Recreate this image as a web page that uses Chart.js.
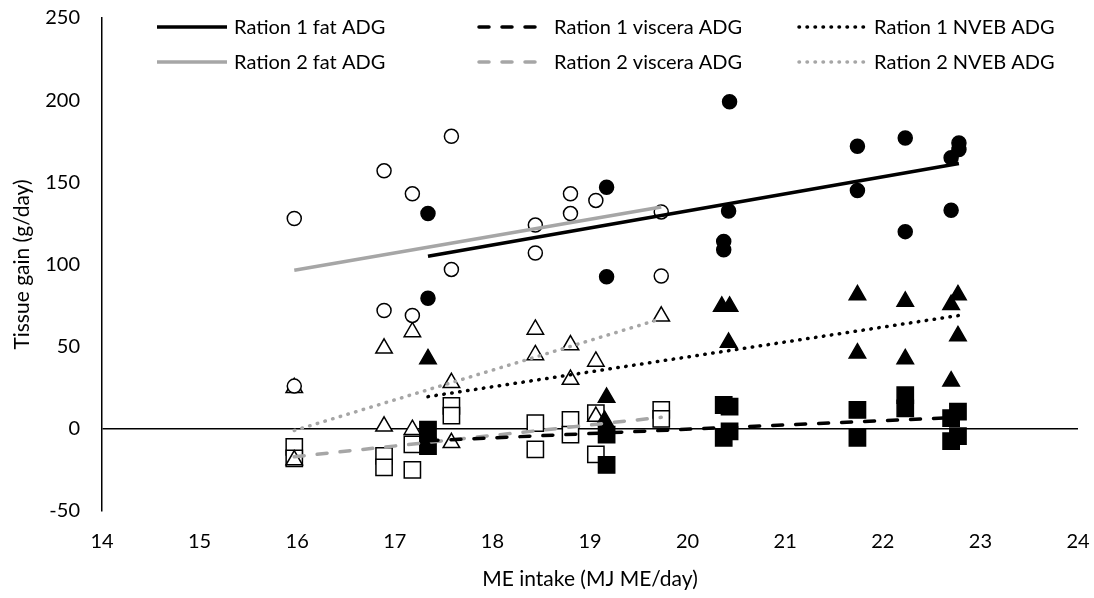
<!DOCTYPE html>
<html>
<head>
<meta charset="utf-8">
<script src="https://cdn.jsdelivr.net/npm/chart.js@4.4.1/dist/chart.umd.min.js"></script>
<style>
  html, body { margin: 0; padding: 0; background: #fff; }
  #wrap { width: 1094px; height: 598px; }
</style>
</head>
<body>
<div id="wrap"><canvas id="chart" width="1094" height="598"></canvas></div>
<script>
// measured points, x = ME intake (MJ ME/day), y = tissue gain (g/day)
const r1FatX = [17.34, 17.34, 19.17, 19.17, 20.43, 20.42, 20.37, 20.37, 21.74, 21.74, 22.23, 22.23, 22.70, 22.70, 22.78, 22.78];
const r1FatY = [131, 79.5, 147, 92.5, 199, 132.5, 114, 109, 172, 145, 177, 120, 165, 133, 174, 170];

const r2FatX = [15.97, 15.97, 16.89, 16.89, 17.18, 17.18, 17.58, 17.58, 18.44, 18.44, 18.80, 18.80, 19.06, 19.73, 19.73];
const r2FatY = [128, 26, 157, 72, 143, 69, 178, 97, 124, 107, 143, 131, 139, 132, 93];

const r1NvebX = [17.34, 19.17, 19.15, 20.35, 20.43, 20.42, 21.74, 21.74, 22.23, 22.23, 22.70, 22.70, 22.77, 22.77];
const r1NvebY = [42.5, 19, 5, 74.5, 74.5, 52.5, 81.5, 46, 77.5, 42.5, 75.5, 29, 81.5, 56.5];

const r2NvebX = [15.97, 15.97, 16.89, 16.89, 17.18, 17.18, 17.58, 17.58, 18.44, 18.44, 18.80, 18.80, 19.06, 19.06, 19.73];
const r2NvebY = [25, -19, 49, 1.5, 59, -0.5, 28, -8.5, 60.5, 45, 51, 30, 41, 7.5, 68.5];

const r1VisX = [17.34, 17.34, 19.17, 19.17, 20.37, 20.43, 20.37, 20.43, 21.74, 21.74, 22.23, 22.23, 22.70, 22.70, 22.77, 22.77];
const r1VisY = [-0.5, -10.5, -3.5, -22, 14.5, 13.5, -5.5, -1.5, 11.5, -5.5, 20.5, 12.5, 6.5, -7.5, 10.5, -4.5];

const r2VisX = [15.97, 15.97, 16.89, 16.89, 17.18, 17.18, 17.58, 17.58, 18.44, 18.44, 18.80, 18.80, 19.06, 19.06, 19.73, 19.73];
const r2VisY = [-11, -18, -16.5, -23.5, -9.5, -25, 14, 8, 3.5, -12.5, 5.5, -3.5, 9.5, -15.5, 11.5, 6];

// trend line end points
const r1LineX = [17.34, 22.78];
const r2LineX = [15.97, 19.73];
const r1FatLine = [105, 161.5];
const r2FatLine = [96.5, 135];
const r1VisLine = [-7.2, 7];
const r2VisLine = [-17, 7];
const r1NvebLine = [19.6, 69];
const r2NvebLine = [-1, 67];

const xTicks = [14, 15, 16, 17, 18, 19, 20, 21, 22, 23, 24];
const yTicks = [-50, 0, 50, 100, 150, 200, 250];

const legendNames = [
	'Ration 1 fat ADG', 'Ration 1 viscera ADG', 'Ration 1 NVEB ADG',
	'Ration 2 fat ADG', 'Ration 2 viscera ADG', 'Ration 2 NVEB ADG'
];

const GREY = '#a6a6a6';
const FONT = 'Lato';

function pts(xs, ys) {
	return xs.map(function (x, i) { return {x: x, y: ys[i]}; });
}

function markers(xs, ys, style, filled, radius) {
	return {
		data: pts(xs, ys),
		pointStyle: style,
		pointRadius: radius,
		pointBackgroundColor: filled ? '#000' : '#fff',
		pointBorderColor: '#000',
		pointBorderWidth: 1.5,
		showLine: false,
		order: 2
	};
}

function trend(xs, ys, color, dash, cap) {
	return {
		data: pts(xs, ys),
		showLine: true,
		borderColor: color,
		borderWidth: 3.5,
		borderDash: dash === 'dot' ? [0.5, 7.5] : (dash === 'dash' ? [10, 13] : []),
		borderCapStyle: cap,
		pointRadius: 0,
		order: 1
	};
}

const lineStyles = [
	{color: '#000', dash: [], cap: 'butt'},
	{color: '#000', dash: [10, 13], cap: 'round'},
	{color: '#000', dash: [0.5, 7.5], cap: 'round'},
	{color: GREY, dash: [], cap: 'butt'},
	{color: GREY, dash: [10, 13], cap: 'round'},
	{color: GREY, dash: [0.5, 7.5], cap: 'round'}
];

const legendPlugin = {
	id: 'excelLegend',
	afterDraw(chart) {
		const ctx = chart.ctx;
		const cols = [157, 477, 797];
		const rows = [27, 62];
		ctx.save();
		ctx.font = '20px ' + FONT;
		ctx.fillStyle = '#000';
		ctx.textBaseline = 'middle';
		legendNames.forEach(function (name, i) {
			const x = cols[i % 3];
			const y = rows[Math.floor(i / 3)];
			const st = lineStyles[i];
			ctx.beginPath();
			ctx.strokeStyle = st.color;
			ctx.lineWidth = 3.5;
			ctx.setLineDash(st.dash);
			ctx.lineCap = st.cap;
			ctx.moveTo(x + (st.cap === 'round' ? 2 : 0), y);
			ctx.lineTo(x + 70, y);
			ctx.stroke();
			ctx.setLineDash([]);
			ctx.fillText(name, x + 77, y + 1);
		});
		ctx.restore();
	}
};

const config = {
	type: 'scatter',
	data: {
		datasets: [
			markers(r1FatX, r1FatY, 'circle', true, 7),
			markers(r1NvebX, r1NvebY, 'triangle', true, 9.5),
			markers(r1VisX, r1VisY, 'rect', true, 11.5),
			markers(r2FatX, r2FatY, 'circle', false, 7),
			markers(r2NvebX, r2NvebY, 'triangle', false, 9.5),
			markers(r2VisX, r2VisY, 'rect', false, 11.5),
			trend(r1LineX, r1FatLine, '#000', 'solid', 'butt'),
			trend(r1LineX, r1VisLine, '#000', 'dash', 'round'),
			trend(r1LineX, r1NvebLine, '#000', 'dot', 'round'),
			trend(r2LineX, r2FatLine, GREY, 'solid', 'butt'),
			trend(r2LineX, r2VisLine, GREY, 'dash', 'round'),
			trend(r2LineX, r2NvebLine, GREY, 'dot', 'round')
		]
	},
	options: {
		responsive: false,
		animation: false,
		layout: {padding: {left: 0, right: 16, top: 18, bottom: 0}},
		plugins: {
			legend: {display: false},
			tooltip: {enabled: false}
		},
		scales: {
			x: {
				type: 'linear',
				min: 14,
				max: 24,
				afterBuildTicks: function (s) { s.ticks = xTicks.map(function (v) { return {value: v}; }); },
				afterFit: function (s) {
					s.height = 87;
					s.paddingLeft = 0;
					s.paddingRight = 0;
				},
				grid: {display: false, drawTicks: false},
				border: {display: false},
				ticks: {color: '#000', padding: 19, font: {family: FONT, size: 20}},
				title: {
					display: true,
					text: 'ME intake (MJ ME/day)',
					color: '#000',
					font: {family: FONT, size: 21},
					padding: {top: 0, bottom: 6}
				}
			},
			y: {
				type: 'linear',
				min: -50,
				max: 250,
				afterBuildTicks: function (s) { s.ticks = yTicks.map(function (v) { return {value: v}; }); },
				afterFit: function (s) {
					s.width = 102;
					s.paddingTop = 0;
					s.paddingBottom = 0;
				},
				grid: {
					drawTicks: false,
					color: function (c) { return c.tick && c.tick.value === 0 ? '#000' : 'rgba(0,0,0,0)'; },
					lineWidth: 1.5
				},
				border: {display: true, color: '#000', width: 1.5},
				ticks: {color: '#000', padding: 22, font: {family: FONT, size: 20}},
				title: {
					display: true,
					text: 'Tissue gain (g/day)',
					color: '#000',
					font: {family: FONT, size: 21},
					padding: {top: 10, bottom: 0}
				}
			}
		}
	},
	plugins: [legendPlugin]
};

new Chart(document.getElementById('chart'), config);
</script>
</body>
</html>
